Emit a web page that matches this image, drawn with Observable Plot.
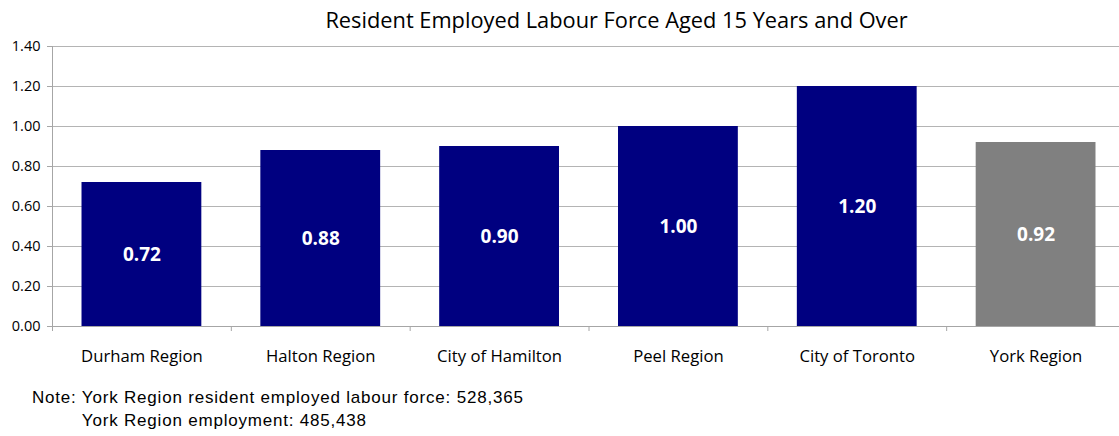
<!DOCTYPE html>
<html>
<head>
<meta charset="utf-8">
<script src="https://cdn.jsdelivr.net/npm/d3@7"></script>
<script src="https://cdn.jsdelivr.net/npm/@observablehq/plot@0.6"></script>
<style>
  body { margin: 0; background: #fff; }
  #wrap { width: 1119px; height: 436px; position: relative; overflow: hidden; }
  #title { height: 36px; line-height: 40px; font-family: "Open Sans", sans-serif; font-size: 21.8px; color: #000; text-align: center; padding-left: 114px; box-sizing: border-box; width: 1119px; white-space: nowrap; }
  #chart svg { overflow: hidden; }
  #note { font-family: "Liberation Sans", Arial, sans-serif; font-size: 17px; letter-spacing: 0.8px; color: #000; margin-left: 32px; line-height: 23px; margin-top: 10px; white-space: pre; }
  #note .pad { visibility: hidden; }
</style>
</head>
<body>
<div id="wrap">
  <div id="title"></div>
  <div id="chart"></div>
  <div id="note"></div>
</div>
<script>
const title = "Resident Employed Labour Force Aged 15 Years and Over";
const categories = ["Durham Region", "Halton Region", "City of Hamilton", "Peel Region", "City of Toronto", "York Region"];
const values = [0.72, 0.88, 0.90, 1.00, 1.20, 0.92];
const highlighted = "York Region";
const yTicks = [0, 0.2, 0.4, 0.6, 0.8, 1.0, 1.2, 1.4];
const notePrefix = "Note: ";
const noteLines = ["York Region resident employed labour force: 528,365", "York Region employment: 485,438"];

const data = categories.map((name, i) => ({name, value: values[i]}));

const W = 1119, H = 340, ML = 52, MR = -6;
const step = (W - ML - MR) / categories.length;
const navy = "#000080", gray = "#808080", gridColor = "#b4b4b4", axisColor = "#a6a6a6";
const font = "'Open Sans', sans-serif";

document.getElementById("title").textContent = title;

const chart = Plot.plot({
  width: W,
  height: H,
  marginTop: 10,
  marginBottom: 50,
  marginLeft: ML,
  marginRight: MR,
  style: {fontFamily: font, fontSize: "14px", color: "#000", background: "white"},
  x: {domain: categories, paddingInner: 0.33, paddingOuter: 0.165, round: false, label: null},
  y: {domain: [0, 1.4], label: null},
  marks: [
    Plot.gridY(yTicks, {stroke: gridColor, strokeOpacity: 1}),
    Plot.ruleY([0], {stroke: axisColor}),
    Plot.ruleX([categories[0]], {x: d => d, dx: -step / 2, y1: 1.4, y2: 0, insetBottom: -5, stroke: axisColor}),
    Plot.ruleX(categories.slice(1), {x: d => d, dx: -step / 2, y1: 0, y2: 0, insetBottom: -5, stroke: axisColor}),
    Plot.barY(data, {x: "name", y: "value", fill: d => d.name === highlighted ? gray : navy}),
    Plot.text(data, {x: "name", y: d => d.value / 2, text: d => d.value.toFixed(2), fill: "white", fontWeight: "bold", fontSize: 19, fontFamily: font}),
    Plot.axisY(yTicks, {tickFormat: d => d.toFixed(2), tickSize: 5, tickPadding: 7, stroke: axisColor, fontSize: 14.5, fill: "#000"}),
    Plot.axisX({tickSize: 0, tickPadding: 24, fontSize: 16.7, fill: "#000"})
  ]
});
document.getElementById("chart").appendChild(chart);

const note = document.getElementById("note");
noteLines.forEach((t, i) => {
  const div = document.createElement("div");
  const pre = document.createElement("span");
  pre.textContent = notePrefix;
  if (i > 0) pre.className = "pad";
  div.appendChild(pre);
  div.appendChild(document.createTextNode(t));
  note.appendChild(div);
});
</script>
</body>
</html>
